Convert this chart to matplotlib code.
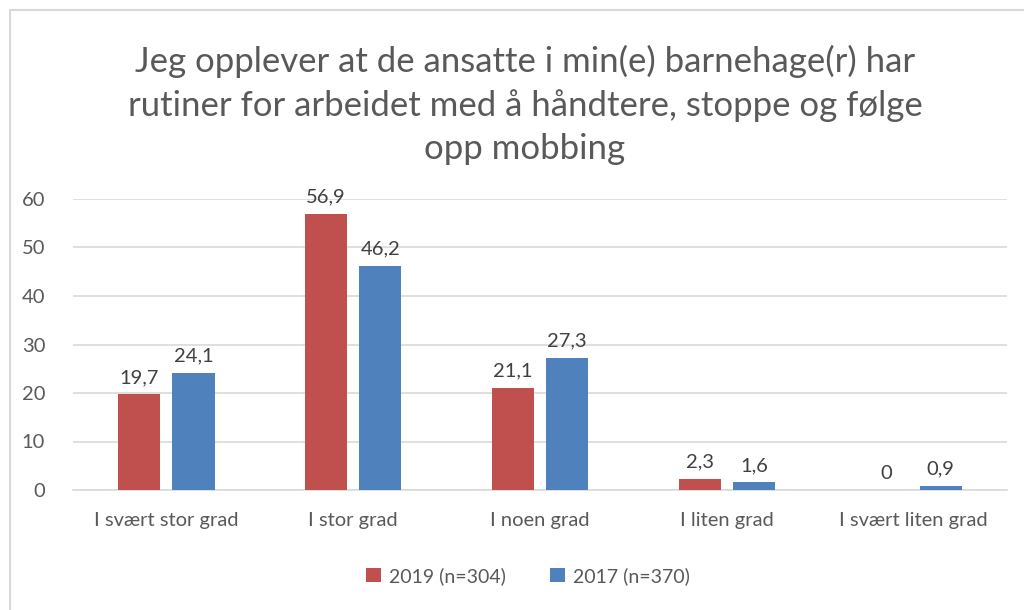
import numpy as np
import matplotlib.pyplot as plt
from matplotlib.lines import Line2D

# Data
kategorier = ['I svært stor grad', 'I stor grad', 'I noen grad', 'I liten grad', 'I svært liten grad']
verdier_2019 = [19.7, 56.9, 21.1, 2.3, 0]
verdier_2017 = [24.1, 46.2, 27.3, 1.6, 0.9]
serie_navn = ['2019 (n=304)', '2017 (n=370)']

rod = '#c0504d'
bla = '#4f81bd'
tekst = '#595959'

plt.rcParams['font.family'] = ['Lato', 'DejaVu Sans']

fig = plt.figure(figsize=(10.24, 6.10), dpi=100)
ax = fig.add_axes([73 / 1024, 1 - 490 / 610, (1007 - 73) / 1024, (490 - 199) / 610])

x = np.arange(len(kategorier))
bredde = 0.225
forskyvning = 0.145
b1 = ax.bar(x - forskyvning, verdier_2019, bredde, color=rod, label=serie_navn[0], zorder=3)
b2 = ax.bar(x + forskyvning, verdier_2017, bredde, color=bla, label=serie_navn[1], zorder=3)

def fmt(v):
    return f'{v:g}'.replace('.', ',')

for bars, vals in [(b1, verdier_2019), (b2, verdier_2017)]:
    for b, v in zip(bars, vals):
        ax.annotate(fmt(v), (b.get_x() + b.get_width() / 2, v), xytext=(0, 6),
                    textcoords='offset points', ha='center', va='bottom',
                    fontsize=14.5, color='#404040')

ax.set_xlim(-0.5, len(kategorier) - 0.5)
ax.set_ylim(0, 60)
ax.set_yticks(range(0, 61, 10))
ax.set_xticks(x)
ax.set_xticklabels(kategorier)
ax.tick_params(axis='both', length=0, labelsize=14.5, labelcolor=tekst)
ax.tick_params(axis='x', pad=16)
ax.tick_params(axis='y', pad=20)
ax.yaxis.grid(True, color='#d9d9d9', linewidth=1.2, zorder=0)
for s in ['top', 'right', 'left']:
    ax.spines[s].set_visible(False)
ax.spines['bottom'].set_color('#d9d9d9')
ax.spines['bottom'].set_linewidth(1.2)

fig.text(525 / 1024, 1 - 105 / 610,
         'Jeg opplever at de ansatte i min(e) barnehage(r) har\n'
         'rutiner for arbeidet med å håndtere, stoppe og følge\n'
         'opp mobbing',
         ha='center', va='center', fontsize=25, color=tekst, linespacing=1.43)

ax.legend(loc='center', bbox_to_anchor=(528 / 1024, 1 - 576 / 610),
          bbox_transform=fig.transFigure, ncol=2, frameon=False,
          fontsize=14, labelcolor=tekst, handlelength=0.75, handleheight=0.75,
          columnspacing=2.3, handletextpad=0.4)

# Chart border (top and left visible)
fig.add_artist(Line2D([9.5 / 1024, 9.5 / 1024, 1], [0, 1 - 9.5 / 610, 1 - 9.5 / 610],
                      transform=fig.transFigure, color='#d9d9d9', linewidth=1.5))

fig.savefig('out.png', dpi=100)
